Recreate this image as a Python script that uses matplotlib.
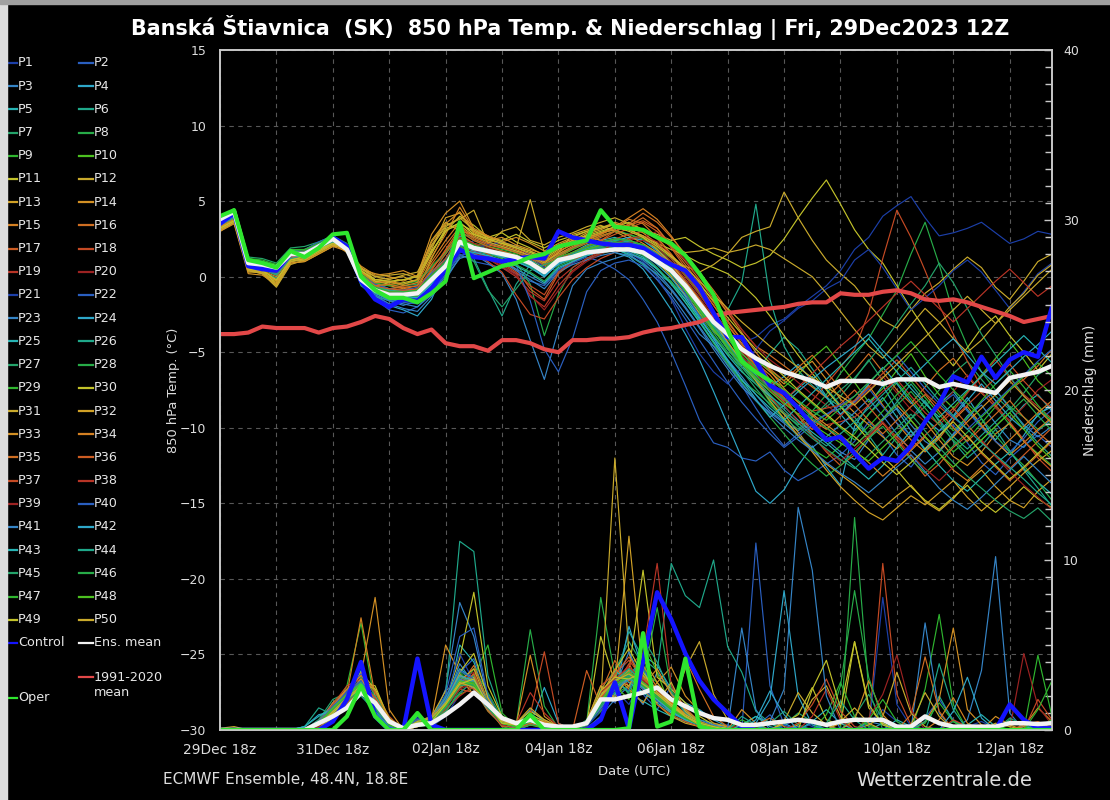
import matplotlib
matplotlib.use("Agg")
import matplotlib.pyplot as plt
from matplotlib.lines import Line2D
from matplotlib.patches import Rectangle
from matplotlib.ticker import MultipleLocator
import pandas as pd

# 6-hourly steps, 29Dec 18z .. 13Jan 12z
times = pd.date_range("2023-12-29 18:00", periods=60, freq="6h")

ens_mean_temp = [3.8,4.3,0.9,0.8,0.6,1.5,1.5,2.0,2.5,1.8,-0.2,-0.9,-1.2,-1.2,-1.1,-0.2,
                 0.7,2.3,1.9,1.7,1.5,1.3,0.9,0.3,1.1,1.3,1.6,1.7,1.8,1.8,1.6,1.0,0.4,
                 -0.6,-1.8,-3.0,-3.8,-4.8,-5.4,-5.9,-6.3,-6.6,-6.9,-7.3,-6.9,
                 -6.9,-6.9,-7.1,-6.8,-6.8,-6.8,-7.3,-7.1,-7.3,-7.5,-7.7,-6.7,-6.5,-6.3,-5.9]
control_temp = [3.5,4.2,0.7,0.5,0.4,1.5,1.5,2.0,2.6,2.0,-0.3,-1.5,-2.0,-1.5,-1.6,-0.8,
                0.5,1.8,1.3,1.2,1.0,1.2,1.3,1.2,3.0,2.6,2.4,2.2,2.1,2.1,1.9,1.3,0.8,
                0.4,-0.7,-2.4,-4.0,-4.0,-5.6,-7.2,-7.7,-8.7,-9.8,-10.8,-10.6,
                -11.7,-12.7,-12.0,-12.2,-11.2,-9.6,-8.4,-6.6,-7.0,-5.3,-6.7,-5.5,-5.0,-5.3,-2.0]
oper_temp = [4.0,4.4,1.1,0.9,0.6,1.7,1.3,1.9,2.8,2.9,0.0,-0.9,-1.4,-1.4,-1.7,-1.1,
             -0.3,3.6,-0.1,0.3,0.7,0.9,1.3,1.5,2.0,2.2,2.4,4.4,3.3,3.2,3.1,2.6,2.2,
             1.4,0.2,-1.2,-3.5,-5.6,-6.3,-6.9]
clim_mean_temp = [-3.8,-3.8,-3.7,-3.3,-3.4,-3.4,-3.4,-3.7,-3.4,-3.3,-3.0,-2.6,-2.8,-3.4,-3.8,-3.5,
                  -4.4,-4.6,-4.6,-4.9,-4.2,-4.2,-4.4,-4.8,-5.0,-4.2,-4.2,-4.1,-4.1,-4.0,-3.7,-3.5,-3.4,
                  -3.2,-3.0,-2.6,-2.4,-2.3,-2.2,-2.1,-2.0,-1.8,-1.7,-1.7,-1.1,
                  -1.2,-1.2,-1.0,-0.9,-1.1,-1.5,-1.6,-1.5,-1.7,-2.0,-2.3,-2.6,-3.0,-2.8,-2.6]

ens_mean_precip = [0,0,0,0,0,0,0.0,0.4,0.8,1.3,2.2,1.6,0.5,0.1,0.3,0.4,0.9,1.5,2.2,1.5,
                   0.7,0.4,0.6,0.3,0.2,0.2,0.4,1.8,1.8,2.0,2.2,2.5,1.8,1.4,1.0,0.7,0.6,0.3,0.3,0.4,
                   0.5,0.6,0.5,0.3,0.5,0.6,0.6,0.6,0.2,0.2,0.8,0.4,0.2,0.2,0.2,0.2,0.4,0.4,0.35,0.4]
control_precip = [0,0,0,0,0,0,0,0,0.5,1.8,4.0,0.8,0,0,4.2,0.3] + [0]*11 + \
                 [0.6,2.8,0.1,4.0,8.1,6.5,4.5,2.9,1.8,1.0,0.2] + [0]*18 + [1.5,0.6,0.1,0.1]
oper_precip = [0]*9 + [0.8,2.6,0.8,0,0,1.0] + [0]*7 + [0.9] + [0]*6 + \
              [0.1,5.7,0.2,0.5,4.2,0.2] + [0]*25

member_temp = [
    [3.6,4.1,0.7,0.9,0.4,1.3,1.6,2.1,2.6,2.0,-0.4,-1.2,-1.8,-1.5,-1.3,-0.6,0.5,1.8,2.4,2.2,1.9,1.6,1.2,0.8,1.4,1.9,2.3,2.5,2.2,2.0,1.5,0.6,-0.5,-1.4,-2.6,-3.5,-4.0,-4.4,-4.0,-3.2,-2.8,-2.0,-1.3,-0.6,0.4,1.8,2.6,4.0,4.7,5.3,3.9,2.7,2.9,3.2,3.6,2.9,2.2,2.5,3.0,2.8],
    [3.4,3.9,0.6,0.5,0.2,1.2,1.1,1.8,2.3,2.0,-0.3,-1.5,-2.2,-2.4,-2.0,-1.2,0.2,1.5,1.0,0.8,0.6,0.2,-0.3,-0.6,0.4,0.9,1.3,1.0,0.5,-0.2,-1.5,-3.0,-5.0,-7.2,-9.5,-11.0,-11.3,-12.0,-12.2,-11.6,-12.8,-13.5,-13.0,-12.4,-11.8,-10.9,-9.6,-10.5,-11.8,-12.6,-11.4,-10.2,-9.8,-11.0,-12.3,-13.1,-12.0,-11.2,-10.5,-11.3],
    [3.9,4.4,1.0,0.7,0.5,1.6,1.4,2.1,2.6,1.9,-0.1,-1.0,-1.6,-1.9,-1.6,-0.9,0.8,2.0,1.5,0.9,0.2,-1.5,-4.2,-6.8,-3.5,-0.6,0.5,0.9,1.2,1.5,0.8,-0.2,-1.2,-2.5,-3.8,-4.6,-5.5,-6.6,-7.8,-8.9,-9.6,-10.2,-9.5,-10.8,-11.6,-12.1,-10.8,-9.5,-8.7,-9.8,-10.9,-11.5,-10.4,-9.2,-8.5,-9.7,-10.8,-11.3,-10.2,-9.4],
    [3.5,4.0,0.8,0.6,0.3,1.4,1.7,2.2,2.4,1.7,-0.5,-1.4,-1.9,-2.2,-2.6,-1.5,0.6,1.9,1.7,1.5,1.4,1.0,0.8,0.1,0.8,1.2,1.8,1.9,1.6,1.3,0.5,-0.8,-2.2,-3.8,-5.5,-7.6,-9.8,-12.0,-14.2,-15.0,-14.1,-12.5,-11.2,-12.6,-13.8,-9.9,-8.5,-7.2,-8.8,-10.2,-11.5,-10.6,-9.2,-8.0,-9.4,-10.9,-11.8,-10.5,-9.1,-8.6],
    [3.7,4.2,1.1,1.0,0.7,1.8,1.5,2.0,2.5,1.8,0.1,-0.6,-0.9,-1.1,-0.8,0.3,1.2,2.7,2.2,1.8,1.6,1.4,1.1,0.6,1.2,1.6,2.1,2.4,2.6,2.3,2.0,1.4,0.6,-0.6,-1.9,-3.4,-4.8,-5.9,-6.8,-7.5,-8.2,-7.4,-6.6,-7.9,-9.1,-10.2,-9.1,-8.0,-9.3,-10.6,-9.5,-8.4,-7.6,-8.8,-9.9,-10.8,-9.6,-8.5,-7.8,-8.9],
    [3.3,3.8,0.5,0.4,-0.1,1.0,1.2,1.7,2.2,2.1,-0.6,-1.3,-1.6,-1.4,-1.2,0.0,0.9,3.5,1.2,-0.8,-2.6,-0.5,0.8,1.3,0.9,1.5,2.0,2.3,1.9,1.4,0.8,0.2,-0.4,-1.2,-2.0,-2.9,-2.2,-0.4,4.8,-1.5,-4.6,-6.2,-7.2,-8.0,-8.6,-9.3,-10.5,-11.8,-10.6,-9.4,-8.2,-9.6,-10.9,-12.0,-11.2,-10.1,-11.5,-12.8,-14.0,-15.2],
    [3.8,4.4,1.3,1.2,0.9,1.9,2.0,2.3,2.7,2.2,0.3,-0.4,-0.8,-0.6,-0.5,0.6,1.5,2.9,2.6,2.3,2.0,1.7,1.4,0.9,1.5,1.9,2.5,2.9,3.1,2.8,2.4,1.8,1.0,-0.2,-1.4,-2.8,-4.1,-5.3,-6.2,-7.0,-7.8,-8.5,-9.3,-8.6,-7.9,-6.8,-5.5,-6.9,-8.2,-9.4,-8.6,-7.5,-6.4,-5.6,-6.8,-7.9,-8.8,-7.7,-6.5,-5.9],
    [3.6,4.2,0.9,0.7,0.5,1.5,1.3,1.9,2.5,1.9,-0.2,-1.1,-1.4,-1.6,-1.4,-0.5,0.4,2.1,2.0,1.7,1.4,0.9,-0.5,-3.9,-1.2,0.6,1.2,1.5,1.8,1.6,1.2,0.5,-0.3,-1.5,-2.9,-4.3,-5.7,-6.9,-7.6,-8.4,-9.1,-9.8,-8.9,-7.8,-6.4,-5.2,-4.1,-2.5,-0.9,1.5,3.6,0.8,-2.4,-4.6,-6.3,-7.5,-8.6,-9.3,-10.1,-9.6],
    [3.9,4.5,1.2,1.0,0.8,1.7,1.8,2.2,2.6,1.6,-0.3,-0.8,-1.0,-0.9,-1.0,-0.1,1.0,2.4,2.2,2.0,1.7,1.5,1.0,0.5,1.3,1.4,1.7,1.9,2.0,2.1,1.9,1.3,0.3,-1.0,-2.5,-3.9,-5.1,-6.0,-6.9,-8.3,-9.5,-10.6,-11.4,-12.0,-11.2,-10.4,-9.1,-8.2,-7.0,-8.1,-9.3,-10.5,-11.6,-10.8,-9.7,-8.6,-9.8,-10.9,-11.7,-12.5],
    [3.7,4.3,0.8,0.9,0.6,1.6,1.5,2.0,2.4,1.9,-0.1,-1.0,-1.3,-1.3,-1.2,-0.3,0.7,2.5,1.9,1.6,1.4,1.2,0.8,0.2,1.0,1.2,1.5,1.7,1.8,1.7,1.5,0.9,0.1,-0.9,-2.1,-3.5,-4.6,-5.4,-6.0,-6.8,-7.3,-6.5,-5.4,-4.6,-5.8,-7.0,-8.3,-7.4,-6.2,-5.1,-6.6,-7.8,-8.7,-7.6,-6.5,-5.4,-4.3,-5.5,-6.9,-7.8],
    [3.4,4.0,0.6,0.5,-0.3,1.2,1.3,1.8,2.3,2.1,0.2,-0.7,-0.9,-1.0,-0.9,1.2,3.0,4.0,3.4,2.6,2.9,2.3,1.9,1.4,1.9,2.2,2.6,2.9,3.3,3.6,3.1,2.8,2.4,2.6,2.0,1.5,1.1,0.6,0.9,1.4,2.5,3.9,5.2,6.4,4.8,3.1,1.8,0.9,-0.6,-2.1,-3.5,-4.8,-5.9,-4.7,-3.4,-2.6,-3.9,-5.0,-6.2,-5.1],
    [3.2,3.7,0.4,0.2,-0.6,0.9,1.0,1.5,2.0,2.0,0.4,-0.3,-0.4,-0.2,0.0,2.4,3.6,3.0,2.8,2.4,2.2,1.9,5.1,1.6,2.1,2.5,2.7,2.4,2.1,1.9,1.5,1.2,0.9,0.7,0.3,0.8,1.5,2.6,3.0,3.3,5.6,3.9,2.4,1.1,0.2,-0.6,-1.8,-2.9,-3.4,-2.2,-1.1,-0.4,0.5,1.3,0.6,-0.7,-1.5,-0.3,1.0,1.5],
    [3.0,3.6,0.3,0.3,-0.4,1.0,1.2,1.7,2.1,1.8,0.6,-0.2,-0.1,0.0,-0.4,1.8,3.9,4.2,2.9,2.5,2.2,2.0,1.7,1.0,1.6,2.8,3.1,3.4,3.0,2.5,1.8,1.0,0.0,-1.2,-2.4,-3.6,-4.5,-5.6,-6.8,-8.0,-9.1,-10.3,-11.5,-12.4,-13.1,-13.8,-14.6,-15.3,-14.5,-13.8,-14.9,-15.5,-14.7,-13.6,-12.8,-13.9,-14.8,-15.3,-14.2,-13.4],
    [3.2,3.8,0.5,0.2,-0.2,1.1,1.4,1.9,2.2,1.6,0.5,0.2,0.0,-0.3,0.1,2.8,4.2,5.0,3.2,2.7,2.3,2.6,2.2,1.7,2.2,2.6,3.0,3.2,3.6,3.3,2.9,2.2,1.4,0.5,-0.6,-1.9,-3.2,-4.4,-5.5,-6.3,-7.1,-6.2,-5.6,-6.8,-8.1,-9.0,-9.8,-10.6,-11.4,-10.5,-9.6,-10.8,-11.9,-12.5,-11.6,-10.4,-9.7,-10.9,-11.8,-12.6],
    [3.5,4.0,0.7,0.6,0.3,1.4,1.6,2.0,2.4,1.9,0.2,-0.5,-0.6,-0.8,-0.6,1.0,2.4,3.6,2.8,2.5,2.1,1.8,1.4,1.0,1.5,2.0,2.4,2.8,3.2,3.8,3.5,2.6,1.5,0.3,-1.0,-2.3,-3.6,-4.8,-5.7,-6.5,-7.6,-8.8,-9.5,-10.1,-9.2,-8.3,-7.2,-8.5,-9.7,-10.8,-11.6,-10.7,-9.5,-8.6,-9.8,-10.9,-11.8,-11.0,-10.1,-9.3],
    [3.6,4.1,0.8,0.7,0.4,1.3,1.7,2.2,2.6,2.0,0.0,-0.6,-0.8,-0.7,-0.9,0.4,1.8,3.2,2.5,2.1,1.9,1.6,1.2,0.7,1.3,1.8,2.2,2.6,3.0,3.5,4.2,3.6,2.6,1.5,0.3,-0.9,-2.2,-3.5,-4.6,-5.2,-5.9,-6.6,-7.3,-8.0,-7.1,-6.2,-5.1,-6.3,-7.5,-8.4,-7.3,-6.2,-5.4,-6.6,-7.7,-8.6,-7.5,-6.8,-5.9,-4.8],
    [3.4,3.9,0.7,0.6,0.2,1.3,1.5,2.0,2.4,1.9,0.1,-0.7,-0.8,-0.9,-1.0,0.2,1.5,2.8,2.2,1.7,1.2,0.5,-0.8,-1.5,0.2,0.9,1.7,2.4,3.0,3.4,3.7,3.2,2.1,1.0,-0.2,-1.5,-2.9,-4.2,-5.5,-6.8,-8.0,-9.2,-10.5,-11.6,-12.5,-11.8,-10.6,-9.7,-10.8,-12.0,-13.2,-12.4,-11.3,-10.5,-11.7,-12.6,-13.5,-12.7,-11.8,-10.9],
    [3.7,4.2,0.9,0.8,0.5,1.5,1.6,2.1,2.5,1.8,-0.2,-0.9,-1.1,-1.2,-1.1,-0.1,0.9,2.2,1.6,1.0,0.3,-1.2,-2.5,-2.8,-1.4,-0.2,0.6,1.2,1.6,1.9,2.1,1.6,0.8,-0.4,-1.6,-2.8,-3.9,-5.0,-6.2,-7.4,-8.3,-9.1,-8.2,-7.1,-6.0,-4.8,-2.4,1.2,4.4,2.6,0.4,-1.9,-3.8,-5.6,-7.3,-8.5,-9.6,-10.8,-12.0,-12.9],
    [3.5,4.0,0.8,0.7,0.3,1.4,1.5,2.1,2.5,2.0,0.0,-0.8,-1.0,-1.1,-1.3,-0.4,0.6,2.0,1.7,1.3,0.8,0.2,-1.3,-2.0,-0.6,0.4,1.1,1.6,2.0,2.3,2.0,1.5,0.7,-0.5,-1.8,-3.1,-4.4,-5.6,-6.7,-7.9,-9.0,-9.6,-10.1,-9.8,-9.6,-9.3,-8.5,-7.6,-6.8,-7.9,-9.0,-9.8,-8.9,-7.7,-6.6,-5.5,-6.7,-7.8,-8.6,-9.4],
    [3.6,4.1,0.8,0.6,0.4,1.4,1.5,2.0,2.4,1.8,-0.2,-0.9,-1.2,-1.1,-1.1,-0.2,1.0,2.5,2.2,1.9,1.6,1.3,1.0,0.5,1.2,1.6,2.0,2.3,2.5,2.4,2.6,3.0,2.2,1.1,0.0,-1.1,-2.3,-3.5,-4.6,-5.5,-6.2,-7.0,-7.8,-8.5,-9.2,-8.4,-7.5,-6.6,-7.7,-8.8,-9.6,-8.7,-7.6,-6.5,-7.6,-8.7,-9.5,-8.6,-7.5,-6.8],
    [3.8,4.3,1.0,0.9,0.6,1.6,1.7,2.1,2.6,1.9,-0.3,-1.0,-1.3,-1.4,-1.5,-0.7,0.3,1.6,1.9,2.1,2.3,2.0,1.4,0.6,0.4,0.9,1.4,1.8,2.0,1.6,1.0,0.0,-1.5,-3.4,-5.1,-6.3,-7.1,-6.0,-4.8,-3.6,-2.9,-2.1,-1.6,-0.8,-0.3,1.1,1.8,0.6,-0.8,-2.2,-1.4,-0.6,0.4,1.1,0.3,-0.9,-2.1,-1.0,0.2,0.9],
    [3.9,4.4,1.1,0.9,0.7,1.7,1.8,2.3,2.7,2.1,0.1,-0.5,-0.8,-0.9,-0.7,0.2,1.1,2.4,2.0,1.7,1.5,1.3,0.9,0.4,1.2,1.5,1.8,2.1,2.3,2.2,1.8,1.1,0.2,-1.1,-2.6,-4.1,-5.6,-7.2,-8.7,-10.1,-11.2,-10.4,-9.6,-9.1,-8.7,-8.3,-7.4,-8.6,-9.7,-10.5,-9.6,-8.5,-7.8,-8.9,-10.0,-10.9,-11.6,-10.7,-9.6,-8.8],
    [3.5,4.0,0.6,0.7,0.5,1.5,1.4,1.9,2.4,1.8,-0.4,-1.2,-1.6,-1.8,-2.0,-1.1,0.0,1.2,1.5,1.4,1.0,0.4,-0.2,-0.8,0.3,0.8,1.1,1.4,1.6,1.4,0.9,0.1,-0.9,-2.1,-3.4,-4.8,-6.1,-7.3,-8.2,-9.0,-9.7,-10.5,-11.3,-10.6,-9.8,-9.0,-8.1,-9.2,-10.4,-11.5,-12.4,-11.6,-10.5,-9.4,-8.3,-7.5,-8.7,-9.8,-10.6,-9.9],
    [3.7,4.2,0.9,0.8,0.6,1.6,1.6,2.1,2.5,1.9,-0.1,-0.8,-1.1,-1.0,-1.2,-0.4,0.8,2.1,1.9,1.7,1.5,1.2,0.7,0.0,0.9,1.3,1.7,2.1,2.4,2.6,2.4,1.7,0.9,-0.3,-1.7,-3.0,-4.4,-5.7,-6.5,-7.3,-6.6,-5.8,-6.9,-8.0,-9.1,-8.2,-7.1,-6.0,-7.1,-8.3,-9.4,-10.2,-9.3,-8.2,-7.1,-8.2,-9.3,-10.1,-9.2,-8.4],
    [3.6,4.1,0.8,0.7,0.4,1.4,1.6,2.0,2.5,1.9,-0.3,-1.1,-1.4,-1.5,-1.4,-0.5,0.5,1.9,1.7,1.5,1.3,1.0,0.6,0.0,0.9,1.1,1.4,1.6,1.8,1.5,1.2,0.5,-0.4,-1.5,-2.8,-4.0,-5.2,-6.3,-7.1,-7.9,-8.6,-9.5,-10.3,-11.0,-11.8,-12.6,-13.4,-12.5,-11.3,-10.2,-11.4,-12.5,-13.5,-14.2,-13.3,-12.4,-11.6,-12.7,-13.6,-14.4],
    [3.4,3.9,0.7,0.6,0.2,1.3,1.4,1.9,2.3,2.0,0.0,-0.7,-1.0,-1.2,-1.0,-0.2,0.6,2.2,2.0,1.8,1.5,1.3,0.9,0.4,1.0,1.4,1.9,2.2,2.4,2.3,2.0,1.4,0.5,-0.7,-2.0,-3.3,-4.5,-5.4,-6.3,-5.1,-4.0,-4.8,-6.1,-7.4,-8.5,-9.6,-10.5,-9.4,-8.3,-7.1,-8.3,-9.5,-10.6,-11.4,-10.5,-9.6,-8.7,-9.9,-11.0,-11.9],
    [3.8,4.3,1.0,0.8,0.5,1.6,1.5,2.0,2.5,1.8,-0.1,-0.9,-1.2,-1.3,-1.1,-0.3,0.7,2.3,1.8,1.5,1.3,1.1,0.7,0.2,1.0,1.3,1.6,1.9,2.1,2.0,1.6,1.0,0.2,-0.9,-2.3,-3.7,-5.0,-6.2,-7.4,-8.5,-9.4,-10.1,-9.3,-8.4,-7.5,-6.7,-5.6,-4.4,-3.1,-1.8,-0.6,0.9,-0.4,-2.1,-3.8,-5.2,-6.6,-7.9,-8.8,-9.5],
    [3.5,4.1,0.8,0.9,0.6,1.5,1.7,2.2,2.6,1.9,-0.2,-1.0,-1.4,-1.4,-1.3,-0.4,0.6,2.0,1.8,1.5,1.2,0.8,0.3,-0.3,0.7,1.1,1.5,1.8,2.0,1.8,1.4,0.6,-0.4,-1.7,-3.0,-4.4,-5.8,-7.0,-8.2,-9.3,-10.4,-11.5,-12.4,-13.2,-12.5,-11.6,-10.7,-9.9,-11.0,-12.1,-13.0,-12.1,-11.2,-10.3,-9.4,-10.5,-11.6,-12.5,-13.6,-14.8],
    [3.9,4.5,1.2,1.1,0.8,1.8,1.8,2.2,2.7,2.0,0.2,-0.4,-0.6,-0.5,-0.3,0.7,1.6,3.0,2.4,2.0,1.8,1.6,1.3,0.8,1.4,1.8,2.3,2.7,3.0,2.8,2.5,1.9,1.2,0.1,-1.1,-2.4,-3.6,-4.7,-5.5,-6.2,-6.9,-7.6,-8.4,-9.2,-10.0,-10.8,-9.9,-8.9,-7.8,-6.9,-8.0,-9.1,-10.2,-9.3,-8.2,-7.1,-6.2,-7.3,-8.5,-9.6],
    [3.3,3.8,0.5,0.4,-0.5,1.0,1.2,1.7,2.2,2.0,0.3,-0.3,-0.5,-0.4,-0.2,1.5,3.2,3.5,3.0,2.6,2.4,2.8,2.3,1.9,2.4,2.7,3.0,3.3,3.4,3.1,2.7,2.2,1.8,1.4,0.9,0.6,0.2,-0.5,-1.4,-2.6,-3.9,-5.2,-6.4,-7.5,-8.6,-9.7,-10.8,-11.9,-12.8,-13.9,-14.8,-15.4,-14.6,-13.8,-14.9,-15.6,-14.8,-13.9,-14.7,-15.3],
    [3.1,3.6,0.4,0.2,-0.7,0.8,1.1,1.6,2.1,1.9,0.5,0.0,-0.2,0.1,0.3,2.1,3.4,3.8,4.4,2.2,3.0,3.3,2.4,2.1,2.6,2.9,3.3,3.6,3.9,3.5,3.1,2.6,2.0,1.6,1.7,1.9,1.6,1.8,2.1,1.8,1.2,0.6,0.0,-1.1,-2.3,-3.5,-4.6,-5.4,-4.3,-3.2,-2.1,-3.0,-4.1,-5.0,-4.2,-3.1,-2.0,-1.1,0.1,0.8],
    [3.2,3.7,0.5,0.3,-0.3,1.1,1.3,1.8,2.3,1.9,0.4,-0.2,-0.3,-0.5,-0.2,1.6,3.1,3.4,2.7,2.3,2.0,1.7,1.4,0.9,1.6,2.2,2.8,3.1,3.5,3.2,2.6,1.8,0.9,-0.2,-1.5,-2.9,-4.3,-5.6,-6.9,-8.2,-9.4,-10.5,-11.6,-12.8,-13.9,-14.8,-15.6,-16.1,-15.3,-14.5,-15.1,-14.3,-13.5,-14.6,-15.5,-14.7,-13.9,-13.0,-12.2,-11.5],
    [3.0,3.5,0.2,0.1,-0.5,0.9,1.0,1.5,2.0,1.7,0.7,0.1,0.2,0.4,0.0,2.3,3.5,4.3,3.0,2.4,2.6,2.1,1.8,1.5,2.0,2.4,2.6,2.9,3.1,2.7,2.2,1.6,0.8,-0.3,-1.5,-2.6,-3.7,-4.8,-5.9,-6.8,-7.5,-8.3,-9.1,-9.8,-10.5,-11.2,-10.3,-9.4,-8.5,-9.5,-10.6,-11.5,-10.6,-9.6,-8.7,-7.8,-6.9,-7.9,-8.8,-9.7],
    [3.3,3.8,0.6,0.4,0.0,1.2,1.4,1.9,2.3,1.8,0.3,-0.4,-0.3,-0.6,-0.4,1.3,2.8,4.6,3.1,2.7,2.3,1.9,1.5,1.1,1.7,2.1,2.5,2.8,3.3,3.9,4.5,3.8,2.7,1.4,0.2,-1.1,-2.4,-3.7,-5.0,-6.2,-7.4,-8.3,-9.2,-10.0,-10.8,-11.5,-12.3,-13.2,-12.4,-11.5,-10.6,-11.7,-12.8,-13.5,-12.6,-11.7,-10.8,-9.9,-9.0,-8.2],
    [3.4,3.9,0.7,0.5,0.1,1.2,1.5,2.0,2.4,1.9,0.1,-0.6,-0.5,-0.7,-0.6,0.8,2.1,3.3,2.6,2.2,1.9,1.6,1.3,0.8,1.4,1.9,2.3,2.7,3.0,3.4,3.9,3.2,2.0,0.8,-0.4,-1.7,-3.0,-4.2,-5.3,-6.1,-6.9,-6.0,-5.2,-6.3,-7.4,-8.5,-9.5,-10.4,-9.5,-8.6,-7.8,-8.9,-10.0,-10.9,-10.0,-9.1,-8.2,-9.3,-10.3,-11.1],
    [3.5,4.0,0.8,0.6,0.3,1.3,1.5,2.0,2.5,1.9,0.0,-0.7,-0.8,-0.9,-0.8,0.5,1.7,3.0,2.4,2.0,1.7,1.4,1.0,0.5,1.1,1.6,2.0,2.4,2.8,3.2,3.6,3.0,1.9,0.6,-0.6,-1.9,-3.2,-4.5,-5.8,-7.0,-8.1,-9.2,-10.1,-9.3,-8.4,-7.5,-8.6,-9.7,-10.6,-11.4,-10.5,-9.6,-8.7,-9.8,-10.9,-11.9,-12.7,-11.8,-10.9,-10.0],
    [3.6,4.1,0.9,0.7,0.4,1.4,1.6,2.1,2.5,1.9,-0.1,-0.8,-1.0,-1.0,-1.1,0.1,1.2,2.6,2.0,1.5,0.9,0.3,-0.6,-1.2,0.3,1.0,1.6,2.1,2.5,2.8,3.0,2.5,1.4,0.2,-1.0,-2.3,-3.6,-4.8,-6.0,-7.1,-8.1,-8.6,-8.9,-8.7,-8.5,-8.2,-7.3,-6.4,-5.5,-6.6,-7.7,-8.6,-9.4,-8.5,-7.6,-6.7,-5.8,-6.9,-7.9,-8.7],
    [3.7,4.2,1.0,0.8,0.5,1.5,1.7,2.1,2.6,2.0,-0.2,-0.9,-1.1,-1.2,-1.2,-0.2,0.8,2.2,1.8,1.2,0.6,0.0,-1.0,-1.6,-0.2,0.6,1.2,1.7,2.2,2.5,2.7,2.3,1.2,0.0,-1.2,-2.5,-3.8,-5.0,-6.1,-7.2,-8.2,-7.3,-6.4,-5.5,-4.6,-3.8,-2.9,-2.0,-1.1,-0.3,-1.2,-2.1,-3.0,-2.1,-1.2,-0.3,0.5,-0.4,-1.3,-0.6],
    [3.5,4.0,0.7,0.6,0.3,1.4,1.5,2.0,2.4,1.8,-0.3,-1.1,-1.3,-1.3,-1.2,-0.3,0.6,2.0,1.6,1.2,0.7,0.1,-1.2,-2.2,-0.9,0.3,1.0,1.5,1.9,2.2,2.4,2.0,1.0,-0.2,-1.4,-2.7,-4.0,-5.2,-6.4,-7.5,-8.5,-9.6,-10.6,-11.5,-12.2,-11.4,-10.5,-9.6,-10.7,-11.8,-12.7,-13.5,-12.6,-11.7,-10.8,-11.9,-12.9,-13.8,-14.6,-15.4],
    [3.8,4.3,1.0,0.9,0.6,1.6,1.6,2.1,2.6,2.0,-0.2,-1.1,-1.5,-1.7,-1.8,-0.9,0.1,1.4,1.6,1.7,1.5,0.8,-1.6,-4.8,-6.3,-4.1,-1.0,0.4,0.9,1.1,0.7,-0.2,-1.4,-2.8,-4.2,-5.6,-7.0,-8.3,-9.4,-10.4,-11.3,-10.6,-9.8,-9.1,-8.5,-7.9,-7.0,-6.1,-5.2,-6.3,-7.4,-8.4,-9.3,-10.1,-9.2,-8.3,-7.4,-6.5,-5.6,-4.8],
    [3.6,4.1,0.8,0.7,0.5,1.5,1.5,2.0,2.5,1.9,-0.4,-1.3,-1.8,-2.1,-2.3,-1.3,-0.2,1.3,1.4,1.3,1.0,0.5,0.0,-0.5,0.5,1.0,1.4,1.7,1.9,1.6,1.1,0.3,-0.8,-2.0,-3.3,-4.6,-5.9,-7.1,-8.2,-9.1,-10.0,-10.8,-11.5,-12.3,-13.0,-13.6,-14.3,-13.5,-12.6,-11.8,-12.9,-14.0,-14.8,-15.4,-14.6,-13.7,-12.8,-11.9,-12.8,-13.7],
    [3.7,4.2,0.9,0.8,0.6,1.6,1.6,2.1,2.5,1.9,-0.1,-0.9,-1.2,-1.3,-1.4,-0.5,0.7,2.1,1.8,1.6,1.3,1.0,0.6,0.0,0.9,1.3,1.7,2.0,2.2,2.0,1.6,0.8,-0.1,-1.3,-2.7,-4.1,-5.5,-6.8,-8.1,-9.3,-8.5,-7.6,-6.8,-6.0,-5.3,-4.6,-3.8,-4.9,-5.8,-6.7,-5.8,-4.9,-4.1,-5.2,-6.3,-7.1,-6.2,-5.3,-4.5,-3.6],
    [3.5,4.0,0.7,0.6,0.4,1.4,1.5,2.0,2.4,1.8,-0.3,-1.1,-1.5,-1.6,-1.6,-0.7,0.4,1.8,1.6,1.4,1.1,0.7,0.2,-0.4,0.6,1.0,1.4,1.7,1.9,1.7,1.3,0.5,-0.5,-1.7,-3.0,-4.3,-5.6,-6.8,-7.8,-8.7,-9.5,-8.6,-7.7,-6.8,-5.9,-5.0,-4.1,-5.2,-6.3,-7.4,-8.4,-9.3,-8.4,-7.5,-6.6,-5.7,-4.8,-3.9,-4.8,-5.7],
    [3.4,3.9,0.6,0.5,0.1,1.2,1.4,1.9,2.3,1.9,0.0,-0.7,-0.9,-1.0,-0.9,0.0,0.9,2.3,1.9,1.6,1.4,1.1,0.7,0.2,1.0,1.5,1.9,2.2,2.5,2.4,2.1,1.5,0.6,-0.6,-1.9,-3.2,-4.5,-5.7,-6.8,-7.8,-8.8,-9.7,-10.5,-11.2,-10.4,-9.6,-8.7,-7.8,-6.9,-6.0,-7.1,-8.2,-9.2,-10.1,-11.0,-11.8,-12.6,-13.4,-14.3,-15.1],
    [3.6,4.1,0.8,0.7,0.4,1.4,1.5,2.0,2.4,1.9,-0.2,-1.0,-1.2,-1.3,-1.2,-0.3,0.6,2.1,1.0,-0.9,-2.0,-0.8,0.4,0.8,1.1,1.4,1.7,2.0,2.2,2.1,1.8,1.1,0.3,-0.9,-2.2,-3.5,-4.8,-6.0,-7.1,-8.1,-9.0,-9.9,-10.7,-11.4,-12.1,-12.7,-11.8,-10.9,-10.0,-9.1,-10.2,-11.3,-12.3,-13.2,-14.0,-14.8,-15.5,-16.0,-15.3,-16.2],
    [3.7,4.2,0.9,0.8,0.5,1.5,1.6,2.1,2.5,1.9,-0.1,-0.9,-1.1,-1.2,-1.0,-0.1,0.8,2.2,1.9,1.6,1.4,1.2,0.8,0.3,1.1,1.4,1.8,2.1,2.3,2.2,1.9,1.2,0.4,-0.8,-2.1,-3.4,-4.6,-5.7,-6.6,-7.4,-8.1,-8.8,-9.4,-10.0,-10.6,-11.2,-10.3,-9.4,-8.5,-7.6,-8.7,-9.8,-10.8,-11.7,-10.8,-9.9,-9.0,-8.1,-9.2,-10.2],
    [3.9,4.4,1.1,1.0,0.7,1.7,1.7,2.2,2.6,2.0,0.0,-0.7,-1.0,-1.0,-0.9,0.1,1.0,2.5,2.1,1.8,1.6,1.4,1.0,0.5,1.3,1.6,2.0,2.3,2.5,2.4,2.1,1.4,0.6,-0.6,-1.8,-3.0,-4.1,-5.1,-6.0,-6.8,-7.5,-8.2,-8.9,-9.5,-8.7,-7.9,-7.0,-6.1,-5.2,-4.3,-5.4,-6.5,-7.5,-8.4,-9.3,-8.4,-7.5,-6.6,-5.7,-6.6],
    [3.8,4.3,1.0,0.9,0.6,1.6,1.6,2.1,2.5,1.9,-0.1,-0.9,-1.2,-1.2,-1.1,-0.2,0.7,2.3,2.0,1.7,1.5,1.2,0.8,0.3,1.1,1.4,1.8,2.1,2.3,2.1,1.8,1.1,0.3,-0.9,-2.2,-3.5,-4.7,-5.8,-6.7,-7.6,-8.4,-9.1,-9.8,-10.4,-11.0,-11.6,-12.2,-11.3,-10.4,-9.5,-10.6,-11.7,-12.6,-11.7,-10.8,-9.9,-9.0,-10.1,-11.2,-12.1],
    [3.2,3.7,0.5,0.4,-0.2,1.1,1.3,1.8,2.2,1.9,0.4,-0.2,-0.3,-0.2,0.0,1.7,3.0,3.6,2.8,2.5,2.2,1.9,1.6,1.2,1.8,2.3,2.7,3.0,3.3,3.0,2.6,2.0,1.3,0.5,-0.5,-1.6,-2.7,-3.8,-4.8,-5.7,-6.6,-7.5,-8.3,-9.1,-9.9,-10.6,-11.4,-12.3,-13.1,-12.3,-11.4,-10.5,-9.6,-10.6,-11.6,-12.5,-13.4,-12.6,-11.7,-10.8],
    [3.1,3.6,0.4,0.3,-0.6,1.0,1.1,1.6,2.1,1.8,0.6,0.0,0.1,0.2,-0.1,2.0,3.3,3.9,3.1,2.6,2.3,2.0,1.7,1.3,1.9,2.4,2.9,3.2,3.5,3.1,2.7,2.1,1.4,0.6,-0.3,-1.2,-2.1,-3.0,-3.8,-4.6,-5.3,-6.0,-6.7,-7.3,-7.9,-8.5,-7.6,-6.7,-5.8,-4.9,-4.0,-3.1,-2.2,-1.3,-2.2,-3.1,-2.2,-1.3,-0.4,0.5],
]

member_precip = [
    [0]*6 + [0,0.2,0.8,1.5,2.4,1.2,0.3,0, 0.4,0.2,0.8,2.1,3.0,1.2,0.3, 0.2,0.6,0.3,0,0, 0.2,1.1,2.4,1.5,3.2,2.0,1.4,0.8,0.5,0.3,0.2, 0.1,0,0,0.3,0.6,0.2,0,0,0,0.4,1.2,0.5,0,0,0,0,0.2,0.5,0.1,0,0,0.3,0.1],
    [0]*6 + [0,0.3,1.2,2.0,3.1,1.5,0.2,0, 0.6,0.4,1.5,3.4,4.2,2.1,0.5, 0.1,0.4,0.2,0,0, 0.5,2.2,1.6,3.5,2.1,1.2,2.6,1.0,0.4,0.2,0.3, 0,0.2,0.9,0,0,0.4,0,0,0,0,0,0.3,0,0.7,1.8,0.6,0,0,0,0,0.2,0,0],
    [0]*6 + [0,0.5,1.6,2.2,2.8,1.4,0.3,0, 0.8,0.5,2.4,7.5,5.5,1.8,0.4, 0.3,1.2,0.5,0.2,0, 0.1,0.8,1.8,2.6,1.5,3.4,2.2,1.1,0.4,0.2,0, 0,0,0,0,0.2,0,0,0,0,0.5,0.3,0,0,0,0,0,0.6,3.5,10.2,1.0,0,0,0],
    [0]*6 + [0,0.6,1.4,2.4,2.2,1.0,0.2,0, 0.3,0.5,1.9,3.2,2.6,1.3,0.4, 0,0.3,2.5,0.4,0, 0.4,1.5,2.2,3.1,4.4,3.8,2.4,1.6,1.2,0.6,0.2, 0,0,0,0.4] + [0]*19,
    [0]*6 + [0,0.4,1.1,1.8,3.5,2.0,0.2,0, 0.2,0.6,1.2,5.0,4.0,1.6,0.3, 0.5,0.8,0.3,0,0, 0.2,1.8,3.2,2.1,1.7,1.2,0.8,0.5,0.2,0.1,0, 0.3,0.8,0.4,0,0,0,0,0,0,0,0.4] + [0]*12,
    [0]*6 + [0.2,1.3,0.9,1.4,2.0,1.1,0.4,0, 0.5,0.8,2.0,11.1,10.5,3.2,0.8, 0.2,0.5,0.2,0,0, 0.3,1.2,2.8,5.8,4.2,3.5,9.8,7.9,7.2,10.0,4.9, 3.4,1.1,0.4,0,0,0,0,0,0,0,0,0,0,0,2.0,0.5] + [0]*7,
    [0]*6 + [0,0.6,1.8,2.2,2.6,1.9,0.5,0, 0.3,0.4,1.6,3.5,2.8,1.2,0.5, 0.3,0.9,0.5,0.1,0, 0.6,2.4,3.5,5.2,3.8,2.2,1.5,0.9,0.6,0.4,0.2, 0,0,0,0.3,1.0,0.5] + [0]*13 + [0.6,0.2,0,0],
    [0]*6 + [0,0.2,0.6,1.5,3.1,2.2,0.4,0, 0.2,0.3,1.0,2.4,3.6,2.2,0.7, 0.3,5.9,1.4,0.1,0, 0.4,7.8,3.2,2.1,3.0,2.4,1.1,0.6,0.3,0.1,0, 0,0,0,0,0,0,0,0,12.5,2.4] + [0]*13,
    [0]*6 + [0,0.3,1.0,2.6,6.3,1.5,0.3,0, 0.4,0.6,1.4,2.7,3.1,5.0,1.0, 0.2,0.4,0.2,0,0, 0.3,1.1,2.1,2.6,3.5,2.8,1.5,0.9,0.4,0.2,0.1, 0,0,0,0,0,0,0,0,0.8,0.3,0,0,0,2.4,6.8,1.5,0,0,0,0,0,4.4,0.8],
    [0]*6 + [0,0.2,0.9,1.7,2.2,1.6,0.4,0, 0.9,0.3,1.2,2.1,2.5,1.3,0.2, 0,0.3,0.1,0,0, 0.2,1.4,2.6,1.8,5.2,3.4,1.2,0.7,0.3,0.1,0] + [0]*23,
    [0]*6 + [0,0.1,0.7,1.5,2.8,2.6,0.6,0, 0.3,0.5,1.8,4.2,8.1,2.6,0.8, 0.4,1.1,0.6,0.2,0, 0.3,5.5,2.8,3.5,9.4,3.1,2.4,1.6,0.8,0.3,0.2, 0,0,0,0.4,0.9,2.5,0.6,0.3,5.2,1.3,0.4] + [0]*10 + [0.3,0],
    [0.1,0.2,0,0,0,0] + [0,0.3,1.2,2.0,3.4,2.4,0.5,0, 0.5,0.8,2.3,3.0,2.1,1.4,0.4, 0.2,0.8,0.4,0.1,0, 0.5,1.6,16.0,4.5,2.6,1.8,1.2,3.6,5.2,2.1,0.6, 0.2,0,0,0,0.3,1.8,2.6,0.8] + [0]*15,
    [0,0.1,0,0,0,0] + [0,0.2,1.0,1.8,2.6,1.5,0.4,0, 0.4,0.6,1.5,2.8,3.0,1.5,0.5, 0.2,0.6,0.3,0,0, 0.4,1.2,2.5,11.4,3.2,1.5,0.8,0.4,0.2,0,0] + [0]*23,
    [0]*6 + [0,0.4,1.6,2.4,3.2,7.8,1.2,0, 0.3,0.6,5.0,3.3,2.4,1.1,0.3, 0.3,4.4,0.8,0.2,0, 0.5,1.9,3.2,2.4,1.6,2.8,3.7,2.0,1.1,0.4,0.2, 0,0,0,0,0,0,0,0,0,0,0,0,0,0.5,1.8,6.0,1.2,0.3] + [0]*5,
    [0]*6 + [0,0.3,1.2,2.1,6.6,2.0,0.3,0, 0.2,0.8,1.6,2.5,3.3,1.4,0.3, 0.1,0.5,0.3,0,0, 0.3,1.4,2.1,3.2,2.6,1.9,1.3,0.7,0.3,0.1,0, 0,0,0,0,0,0,0,0.4] + [0]*12 + [0.2,1.3,0.5],
    [0]*6 + [0,0.2,0.8,1.5,2.3,1.7,0.4,0, 0.4,0.4,1.3,2.6,3.8,1.7,0.4, 0.1,0.3,0.2,0,0, 0.4,2.2,4.1,2.5,3.6,1.8,1.0,4.2,2.4,0.8,0.2] + [0]*23,
    [0]*6 + [0,0.4,1.4,2.0,2.5,1.8,0.6,0, 0.2,0.5,1.1,3.1,2.7,1.3,0.2, 0.2,0.6,0.5,0.1,0, 3.5,1.4,2.5,3.9,2.4,1.5,0.9,0.5,0.2,0,0] + [0]*23,
    [0]*6 + [0,0.5,1.5,2.6,3.0,2.2,0.8,0, 0.6,0.4,1.5,2.4,2.2,1.8,0.5, 0.3,0.9,4.6,0.4,0, 0.5,2.6,3.3,4.1,3.0,2.3,1.6,1.0,0.5,0.2,0, 0,0,0,0,0,0,0,0,0,0,9.8,2.1,0.3] + [0]*10,
    [0]*6 + [0,0.2,1.1,1.9,2.7,1.6,0.3,0, 0.4,0.6,1.2,2.0,2.6,1.5,0.6, 0.2,0.5,0.3,0,0, 0.2,1.6,2.9,3.8,4.5,9.8,2.6,1.3,0.5,0.2,0, 0,0.2] + [0]*21,
    [0]*6 + [0,0.3,1.3,2.2,2.9,1.4,0.3,0, 0.5,0.5,1.6,2.9,3.4,1.2,0.3, 0.1,0.4,0.3,0,0, 0.3,1.7,2.4,2.8,3.4,2.2,1.4,0.8,0.4,0.2,0] + [0]*20 + [4.5,1.4,0.3],
    [0]*6 + [0,0.3,1.0,1.8,2.6,1.4,0.2,0, 0.5,0.4,1.8,4.5,2.8,1.4,0.3, 0.2,0.7,0.3,0,0, 0.2,1.2,2.3,3.1,2.5,1.9,1.1,0.6,0.3,0.2,0] + [0]*10 + [7.8,1.5,0.2] + [0]*10,
    [0]*6 + [0,0.4,1.3,2.3,3.3,1.8,0.4,0, 0.7,0.6,2.1,5.5,6.0,2.0,0.5, 0.3,0.6,0.2,0,0, 0.4,1.7,2.8,2.3,3.7,2.1,1.4,0.7,0.3,0.1,0, 0,11.0,2.6,0.3] + [0]*19,
    [0]*6 + [0,0.5,1.4,2.0,2.3,1.1,0.2,0, 0.3,0.4,1.6,3.9,2.7,1.5,0.4, 0.2,0.5,0.2,0,0, 0.3,1.3,2.5,4.6,2.8,2.0,1.3,0.9,0.6,0.3,0.1, 6.0,1.2,0,0,0,0,0,0,0,0,0,0,0,6.3,1.0] + [0]*8,
    [0]*6 + [0.2,0.9,1.1,1.6,2.4,1.3,0.3,0, 0.4,0.5,1.4,3.0,2.4,1.2,0.3, 0.4,0.8,0.2,0,0, 0.3,1.5,2.0,6.1,3.5,2.2,1.5,0.8,0.5,0.2,0, 0,0.4,1.8,8.2,2.0,0.3] + [0]*17,
    [0]*6 + [0.2,0.8,1.3,1.8,2.6,1.5,0.4,0, 0.5,0.7,1.9,3.6,3.0,1.6,0.5, 0.2,0.5,0.3,0,0, 0.4,1.8,3.5,2.8,2.2,1.6,1.0,0.6,0.3,0.1,0, 0.3,0.8,0.2,0,0,0.5,1.2,0.4,0,0,0,0.6,0.2,0,0,0,0.3,0.9,0.2,0,0,0.4,0.1],
    [0]*6 + [0,0.3,0.9,1.4,2.5,2.0,0.6,0, 0.3,0.6,1.3,2.6,3.2,1.7,0.5, 0.2,0.4,0.2,0,0, 0.5,2.1,3.0,2.2,5.4,4.0,2.1,1.0,0.4,0.2,0] + [0]*23,
    [0]*6 + [0,0.2,0.8,1.6,2.3,1.3,0.3,0, 0.3,0.5,1.1,2.2,2.9,1.3,0.4, 0.2,0.4,0.2,0,0, 0.3,1.4,2.2,3.0,2.4,1.8,1.2,0.7,0.3,0.1,0, 0,0,0.4,1.1,0.3,0,0,0,0.8,2.1,0.6,0,0,0,0,0.5,0.2,0,0,0.7,0.3,0,0],
    [0]*6 + [0,0.4,1.2,2.1,2.9,2.3,0.5,0, 0.4,0.6,1.6,3.4,2.5,1.4,0.3, 0.1,0.3,0.2,0,0, 0.4,1.6,2.7,3.6,2.9,7.2,2.3,1.2,0.5,0.2,0] + [0]*23,
    [0]*6 + [0,0.3,1.0,1.7,2.3,1.7,0.4,0, 0.4,0.4,1.3,2.8,3.1,1.4,0.4, 0.2,0.6,0.3,0,0, 0.3,1.5,2.6,3.3,2.8,2.1,1.3,0.8,0.4,0.2,0, 0.6,0.2,0,0,0,0,0.9,2.8,0.8,0.2,0,0,0,0.4,1.6,0.5,0,0,0,0,0,0.2,0.6],
    [0]*6 + [0,0.2,0.9,1.6,2.8,2.4,0.7,0, 0.3,0.6,1.7,3.4,4.5,1.9,0.5, 0.3,0.9,0.5,0.1,0, 0.4,2.0,3.5,4.8,3.2,2.4,1.5,0.9,0.4,0.2,0.1] + [0]*23,
    [0]*6 + [0,0.3,1.1,1.9,2.6,1.9,0.5,0, 0.2,0.7,1.5,2.9,3.6,1.5,0.4, 0.4,1.3,0.6,0.2,0, 0.5,2.6,1.9,3.2,2.4,1.6,2.8,1.1,0.4,0.2,0, 0,0,0,0.5,2.2,1.0,0.3,0,0,0.3,0.8,3.4,1.0,0.2,0,0,0,0,0.4,0.2,0,0,0],
    [0]*6 + [0,0.2,0.8,1.4,2.2,1.5,0.4,0, 0.4,0.5,1.4,2.6,3.1,1.3,0.3, 0.2,0.5,0.3,0,0, 0.4,1.7,3.0,2.6,4.2,2.8,1.7,0.9,0.4,0.2,0] + [0]*23,
    [0]*6 + [0,0.3,1.2,2.0,3.0,1.7,0.4,0, 0.6,0.7,1.8,3.2,2.8,1.5,0.5, 0.3,0.7,0.4,0,0, 0.5,2.0,2.8,3.5,2.6,3.6,2.1,1.2,0.5,0.2,0, 1.2,0.4,0,0,0,0,0,0,0.6,2.9,0.9,0,0,0,0,0,0,0,0.8,0.3,0,0,0],
    [0]*6 + [0,0.4,1.4,2.4,3.2,2.3,0.6,0, 0.5,0.6,1.5,2.9,2.6,1.6,0.6, 0.2,0.6,0.5,0.1,0, 0.5,1.8,3.6,2.9,3.8,2.5,1.6,0.8,0.3,0.1,0] + [0]*14 + [0.6,1.9,0.4] + [0]*6,
    [0]*6 + [0,0.3,1.0,1.7,2.4,1.4,0.3,0, 0.3,0.5,1.3,2.5,2.9,1.2,0.3, 0.1,0.4,0.2,0,0, 0.3,1.5,2.9,3.4,2.7,2.0,1.3,0.7,0.3,0.1,0, 0,0.3,0.7,0.2,0,0,0,0,0,0,0,0,0.9,4.3,1.1,0,0,0,0,0,0.3,0.5,0.1],
    [0]*6 + [0,0.2,0.9,1.6,2.3,1.6,0.4,0, 0.4,0.5,1.4,2.6,3.3,1.4,0.4, 0.2,0.5,0.3,0,0, 0.4,1.7,3.3,4.3,3.1,2.2,1.4,0.8,0.4,0.2,0] + [0]*23,
    [0]*6 + [0,0.4,1.3,2.1,2.8,1.9,0.5,0, 0.4,0.6,1.5,2.7,2.4,1.6,0.5, 0.2,0.6,0.4,0,0, 0.4,1.9,2.6,3.1,2.5,1.8,1.2,0.6,0.3,0.1,0, 0,0,0,0,0.4,1.5,3.0,1.1,0.2,0,0,0,0,0,0,0.6,0.2,0,0,0,0,1.8,0.6],
    [0]*6 + [0,0.3,1.2,2.0,2.6,1.6,0.3,0, 0.5,0.5,1.7,3.0,2.6,1.4,0.4, 0.4,2.2,1.0,0.2,0, 0.5,2.2,3.0,3.7,2.9,2.3,1.4,0.7,0.3,0.1,0] + [0]*5 + [0.8,2.4,0.6] + [0]*15,
    [0]*6 + [0,0.2,1.0,1.8,2.5,1.5,0.3,0, 0.3,0.5,1.3,2.4,2.8,1.3,0.3, 0.2,0.5,0.2,0,0, 0.3,1.6,2.7,3.4,2.9,2.2,1.4,0.8,0.4,0.2,0, 0.4,0,0,0,0,0,0,0,0,0.7,2.1,4.4,1.2,0,0,0,0,0,0,0,0,0,0],
    [0]*6 + [0,0.4,1.4,2.2,2.9,1.6,0.3,0, 0.6,0.6,1.8,3.5,3.0,1.6,0.4, 0.3,0.7,0.3,0,0, 0.4,1.5,2.6,3.2,2.4,1.7,1.1,0.6,0.3,0.1,0] + [0]*23,
    [0]*6 + [0,0.3,1.1,1.9,2.6,1.4,0.3,0, 0.4,0.5,1.6,3.0,2.6,1.3,0.4, 0.2,0.5,0.2,0,0, 0.3,1.4,2.4,3.0,2.6,1.9,1.2,0.7,0.3,0.1,0, 0,0,0.5,2.4,13.1,9.4,2.0] + [0]*16,
    [0]*6 + [0,0.4,1.2,2.0,2.7,1.6,0.4,0, 0.5,0.6,1.7,3.2,2.9,1.5,0.4, 0.2,0.6,0.3,0,0, 0.4,1.6,2.8,3.4,2.7,2.0,1.3,0.7,0.3,0.1,0, 0,0.6,2.3,0.9,0,0,0,0,0,0,0,0,0,0,0,1.1,3.1,0.7,0,0,0,0,0],
    [0]*6 + [0,0.3,1.1,1.8,2.5,1.5,0.3,0, 0.4,0.5,1.4,2.9,2.6,1.4,0.4, 0.2,0.5,0.2,0,0, 0.3,1.5,2.5,3.1,2.5,1.8,1.1,0.6,0.3,0.1,0] + [0]*23,
    [0]*6 + [0,0.4,1.3,2.1,2.8,1.7,0.4,0, 0.5,0.6,1.6,3.1,2.8,1.5,0.5, 0.2,0.6,0.3,0,0, 0.4,1.7,2.9,3.6,2.8,2.1,1.4,0.8,0.4,0.2,0, 0.8,0.3,0,0,0,0,0.4,1.7,0.6,0,0,0,0,0.5,3.9,1.2,0,0,0,0,0,0,0],
    [0]*6 + [0,0.3,1.0,1.7,2.4,1.4,0.3,0, 0.4,0.5,1.3,2.6,2.7,1.3,0.4, 0.2,0.5,0.2,0,0, 0.3,1.4,2.4,3.2,2.6,1.9,1.2,0.7,0.3,0.1,0] + [0]*23,
    [0]*6 + [0,0.4,1.2,2.0,2.6,1.6,0.4,0, 0.5,0.5,1.5,2.8,2.6,1.4,0.4, 0.2,0.6,0.3,0,0, 0.4,1.5,2.6,3.3,2.7,2.0,1.3,0.7,0.3,0.1,0, 0,0,0,0,0,0,0,2.6,8.2,3.1,0.6] + [0]*12,
    [0]*6 + [0,0.3,1.1,1.9,2.6,1.5,0.3,0, 0.4,0.6,1.4,2.7,2.8,1.4,0.4, 0.2,0.5,0.2,0,0, 0.3,1.6,2.7,3.1,2.6,1.9,1.2,0.7,0.3,0.1,0, 0,0,0,0,0,0,0,0,0,0.6,1.8,0.5,0,0,0,0,0,0,0.3,0,0,1.2,2.9],
    [0]*6 + [0,0.4,1.3,2.1,2.7,1.6,0.4,0, 0.5,0.6,1.5,2.9,2.7,1.5,0.4, 0.2,0.6,0.3,0,0, 0.4,1.7,2.8,3.4,2.8,2.1,1.3,0.8,0.4,0.2,0] + [0]*23,
    [0]*6 + [0,0.3,1.0,1.8,2.5,1.6,0.4,0, 0.4,0.5,1.5,2.7,3.0,1.5,0.4, 0.3,0.7,0.4,0,0, 0.4,2.3,3.1,3.0,3.4,2.2,1.5,0.8,0.4,0.2,0, 0,0,0,0,0,2.4,4.1,1.3,5.2,1.5,0.3,0,0,0,0,0,0,0,0,0,0,0,0],
    [0]*6 + [0,0.3,1.1,1.9,2.6,1.7,0.5,0, 0.5,0.7,1.6,2.8,2.5,1.6,0.5, 0.3,0.7,0.4,0,0, 0.5,2.0,2.9,3.3,2.7,2.1,1.4,0.8,0.3,0.1,0, 0,0,0,0,0,0,0,0.5,1.3,0.4,0,0,0.3,2.2,0.8,0,0,0,0,0,0,0,0.2],
]

palette = ["#1c3fa8", "#2a5fc0", "#3584c6", "#2ea7c9", "#27b4b4", "#1fa88a", "#24a36a",
           "#27ab48", "#2fb52f", "#4cc020", "#c2c22a", "#c9aa2c", "#d1a126", "#d39024",
           "#d48022", "#cf6e22", "#cc5c22", "#c54a24", "#b83426", "#9c2222"]
member_colors = palette + [palette[round(k * 19 / 18)] for k in range(19)] + palette[1:12]
member_names = [f"P{i}" for i in range(1, 51)]

control_color = "#1414ff"
mean_color = "#f2f2f2"
clim_color = "#e24848"
oper_color = "#2ee62e"
text_color = "#dddddd"
W, H = 1110, 800

fig = plt.figure(figsize=(W / 100, H / 100), dpi=100, facecolor="black")
ax = fig.add_axes([220 / W, 70 / H, 832 / W, 680 / H])
ax.set_facecolor("black")
ax2 = ax.twinx()

for vals, c in zip(member_temp, member_colors):
    ax.plot(times, vals, color=c, lw=0.85)
ax.plot(times, clim_mean_temp, color=clim_color, lw=3.0)
ax.plot(times, control_temp, color=control_color, lw=3.2)
ax.plot(times, ens_mean_temp, color=mean_color, lw=3.2)
ax.plot(times[:len(oper_temp)], oper_temp, color=oper_color, lw=3.0)

for vals, c in zip(member_precip, member_colors):
    ax2.plot(times, vals, color=c, lw=0.85)
ax2.plot(times, control_precip, color=control_color, lw=3.2)
ax2.plot(times, ens_mean_precip, color=mean_color, lw=3.2)
ax2.plot(times, oper_precip, color=oper_color, lw=3.0)

ax.set_xlim(times[0], times[-1])
ax.set_ylim(-30, 15)
ax2.set_ylim(0, 40)

ax.set_yticks(range(-30, 16, 5))
ax.set_xticks(times[::8])
ax.set_xticklabels([t.strftime("%d%b %Hz") for t in times[::8]])
ax.set_xticks(times[::4], minor=True)
ax.set_axisbelow(True)
grid_kw = dict(color="#585858", lw=0.8, linestyle=(0, (4, 4)))
ax.grid(True, which="both", axis="x", **grid_kw)
ax.grid(True, which="major", axis="y", **grid_kw)

ax.tick_params(axis="x", which="both", length=0, pad=9, labelsize=9.9, labelcolor=text_color)
ax.tick_params(axis="y", length=0, pad=10, labelsize=9, labelcolor=text_color)
ax2.yaxis.set_major_locator(MultipleLocator(10))
ax2.yaxis.set_minor_locator(MultipleLocator(1))
ax2.tick_params(axis="y", which="major", direction="in", length=6, width=1, color="#c8c8c8",
                pad=8, labelsize=9, labelcolor=text_color)
ax2.tick_params(axis="y", which="minor", direction="in", length=5, width=1, color="#c8c8c8")
for a in (ax, ax2):
    for s in a.spines.values():
        s.set_color("#c8c8c8")
        s.set_linewidth(1.2)

fig.text(570 / W, 1 - 28 / H, "Banská Štiavnica  (SK)  850 hPa Temp. & Niederschlag | Fri, 29Dec2023 12Z",
         ha="center", va="center", fontsize=14.9, fontweight="bold", color="white")
fig.text(174 / W, 1 - 390 / H, "850 hPa Temp. (°C)", rotation=90, ha="center", va="center",
         fontsize=9.4, color=text_color)
fig.text(1090 / W, 1 - 390 / H, "Niederschlag (mm)", rotation=90, ha="center", va="center",
         fontsize=9.8, color=text_color)
fig.text(634 / W, 1 - 772 / H, "Date (UTC)", ha="center", va="center", fontsize=9.5, color=text_color)
fig.text(163 / W, 1 - 780 / H, "ECMWF Ensemble, 48.4N, 18.8E", ha="left", va="center",
         fontsize=11, color=text_color)
fig.text(1032 / W, 1 - 780 / H, "Wetterzentrale.de", ha="right", va="center", fontsize=14, color=text_color)

# hand-placed legend, two columns
def legend_entry(col, y_px, label, color, text_y=None):
    x0 = [3, 79][col]
    y = 1 - y_px / H
    fig.add_artist(Line2D([x0 / W, (x0 + 14) / W], [y, y], color=color, lw=1.6,
                          transform=fig.transFigure))
    ty = y if text_y is None else 1 - text_y / H
    fig.text((x0 + 15) / W, ty, label, ha="left", va="center", fontsize=9.2, color="#e6e6e6")

for i, (name, c) in enumerate(zip(member_names, member_colors)):
    row, col = divmod(i, 2)
    legend_entry(col, 63 + row * 23.2, name, c)
legend_entry(0, 643, "Control", control_color)
legend_entry(1, 643, "Ens. mean", mean_color)
legend_entry(1, 677, "1991-2020\nmean", clim_color, text_y=685)
legend_entry(0, 698, "Oper", oper_color)

fig.add_artist(Rectangle((0, 0), 7 / W, 1, transform=fig.transFigure, color="#dcdcdc", zorder=5))
fig.add_artist(Rectangle((0, 1 - 4 / H), 1, 4 / H, transform=fig.transFigure, color="#a0a0a0", zorder=5))

fig.savefig("out.png", dpi=100, facecolor="black")
